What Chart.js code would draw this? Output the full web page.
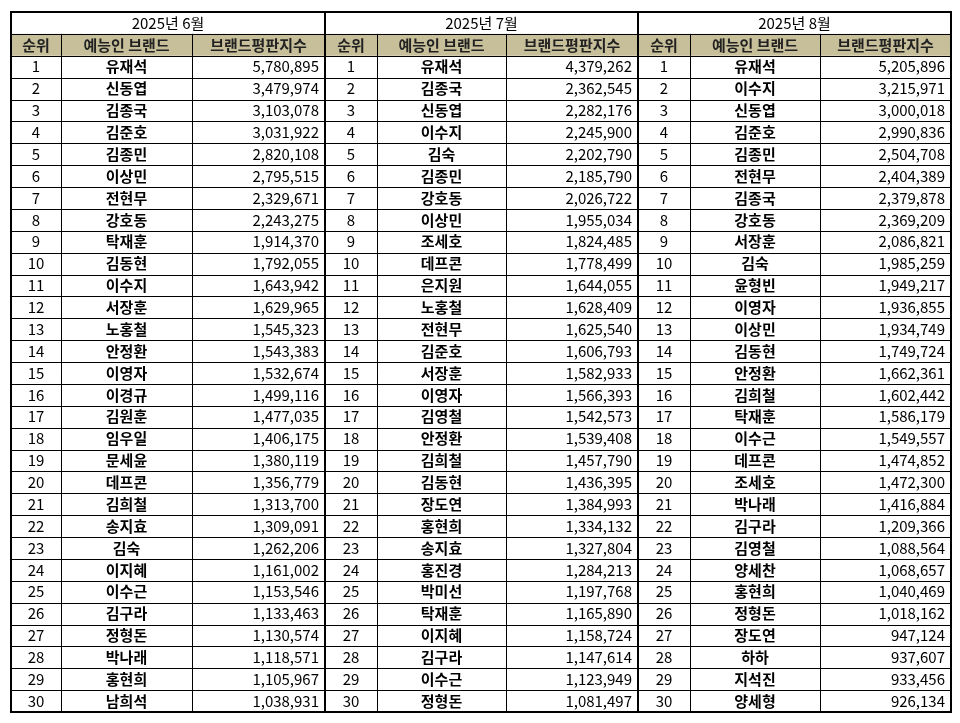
<!DOCTYPE html>
<html><head><meta charset="utf-8">
<script src="https://cdn.jsdelivr.net/npm/chart.js@4"></script>
<style>html,body{margin:0;background:#fff}#c{display:block}</style>
</head><body>
<div style="width:960px;height:723px"><canvas id="c"></canvas></div>
<script>
const months = ['2025년 6월', '2025년 7월', '2025년 8월'];
const headers = ['순위', '예능인 브랜드', '브랜드평판지수'];
const junNames = ['유재석','신동엽','김종국','김준호','김종민','이상민','전현무','강호동','탁재훈','김동현','이수지','서장훈','노홍철','안정환','이영자','이경규','김원훈','임우일','문세윤','데프콘','김희철','송지효','김숙','이지혜','이수근','김구라','정형돈','박나래','홍현희','남희석'];
const junScores = [5780895,3479974,3103078,3031922,2820108,2795515,2329671,2243275,1914370,1792055,1643942,1629965,1545323,1543383,1532674,1499116,1477035,1406175,1380119,1356779,1313700,1309091,1262206,1161002,1153546,1133463,1130574,1118571,1105967,1038931];
const julNames = ['유재석','김종국','신동엽','이수지','김숙','김종민','강호동','이상민','조세호','데프콘','은지원','노홍철','전현무','김준호','서장훈','이영자','김영철','안정환','김희철','김동현','장도연','홍현희','송지효','홍진경','박미선','탁재훈','이지혜','김구라','이수근','정형돈'];
const julScores = [4379262,2362545,2282176,2245900,2202790,2185790,2026722,1955034,1824485,1778499,1644055,1628409,1625540,1606793,1582933,1566393,1542573,1539408,1457790,1436395,1384993,1334132,1327804,1284213,1197768,1165890,1158724,1147614,1123949,1081497];
const augNames = ['유재석','이수지','신동엽','김준호','김종민','전현무','김종국','강호동','서장훈','김숙','윤형빈','이영자','이상민','김동현','안정환','김희철','탁재훈','이수근','데프콘','조세호','박나래','김구라','김영철','양세찬','홍현희','정형돈','장도연','하하','지석진','양세형'];
const augScores = [5205896,3215971,3000018,2990836,2504708,2404389,2379878,2369209,2086821,1985259,1949217,1936855,1934749,1749724,1662361,1602442,1586179,1549557,1474852,1472300,1416884,1209366,1088564,1068657,1040469,1018162,947124,937607,933456,926134];

const blocks = [[junNames, junScores], [julNames, julScores], [augNames, augScores]];
// column edges in x-scale units (px)
const colEdges = [[11, 61, 192, 325], [325, 377, 506, 638], [638, 690, 820, 951]];
const FONT = '"Noto Sans CJK KR", "Noto Sans", sans-serif';

const tablePlugin = {
  id: 'table',
  afterDraw(chart) {
    const ctx = chart.ctx, xs = chart.scales.x, ys = chart.scales.y;
    const X = v => xs.getPixelForValue(v), Y = v => ys.getPixelForValue(v);
    ctx.save();
    // header background
    ctx.fillStyle = '#c7bf99';
    ctx.fillRect(X(11), Y(-1), X(951) - X(11), Y(0) - Y(-1));
    ctx.textBaseline = 'middle';
    blocks.forEach(([names, scores], b) => {
      const e = colEdges[b];
      ctx.fillStyle = '#000';
      ctx.font = '15px ' + FONT;
      ctx.textAlign = 'center';
      ctx.fillText(months[b], (X(e[0]) + X(e[3])) / 2, Y(-1.5));
      ctx.font = 'bold 15px ' + FONT;
      ctx.fillStyle = '#222';
      headers.forEach((h, i) => ctx.fillText(h, (X(e[i]) + X(e[i + 1])) / 2, Y(-0.5)));
      ctx.fillStyle = '#000';
      for (let r = 0; r < 30; r++) {
        const cy = Y(r + 0.5);
        ctx.font = '15px ' + FONT;
        ctx.textAlign = 'center';
        ctx.fillText(String(r + 1), (X(e[0]) + X(e[1])) / 2, cy);
        ctx.font = 'bold 15px ' + FONT;
        ctx.fillText(names[r], (X(e[1]) + X(e[2])) / 2, cy);
        ctx.font = '15px ' + FONT;
        ctx.textAlign = 'right';
        ctx.fillText(scores[r].toLocaleString('en-US'), X(e[3]) - 6, cy);
      }
    });
    // grid lines
    ctx.strokeStyle = '#000';
    ctx.lineWidth = 1;
    ctx.beginPath();
    for (let r = -2; r <= 30; r++) {
      const y = Math.round(Y(r)) + 0.5;
      ctx.moveTo(X(11), y); ctx.lineTo(X(951), y);
    }
    colEdges.forEach(e => e.forEach((v, i) => {
      const x = Math.round(X(v)) + 0.5;
      ctx.moveTo(x, i === 0 || i === 3 ? Y(-2) : Y(-1));
      ctx.lineTo(x, Y(30));
    }));
    ctx.stroke();
    ctx.lineWidth = 2;
    ctx.strokeRect(X(11), Y(-2), X(951) - X(11), Y(30) - Y(-2));
    [325, 638].forEach(v => {
      ctx.beginPath(); ctx.moveTo(X(v), Y(-2)); ctx.lineTo(X(v), Y(30)); ctx.stroke();
    });
    ctx.restore();
  }
};

new Chart(document.getElementById('c'), {
  type: 'scatter',
  data: { datasets: [{ data: [] }] },
  options: {
    responsive: true,
    maintainAspectRatio: false,
    animation: false,
    layout: { padding: { left: 11, top: 12, right: 9, bottom: 11 } },
    scales: {
      x: { type: 'linear', min: 11, max: 951, display: false },
      y: { type: 'linear', min: -2, max: 30, reverse: true, display: false }
    },
    plugins: { legend: { display: false }, tooltip: { enabled: false } }
  },
  plugins: [tablePlugin]
});
</script>
</body></html>
